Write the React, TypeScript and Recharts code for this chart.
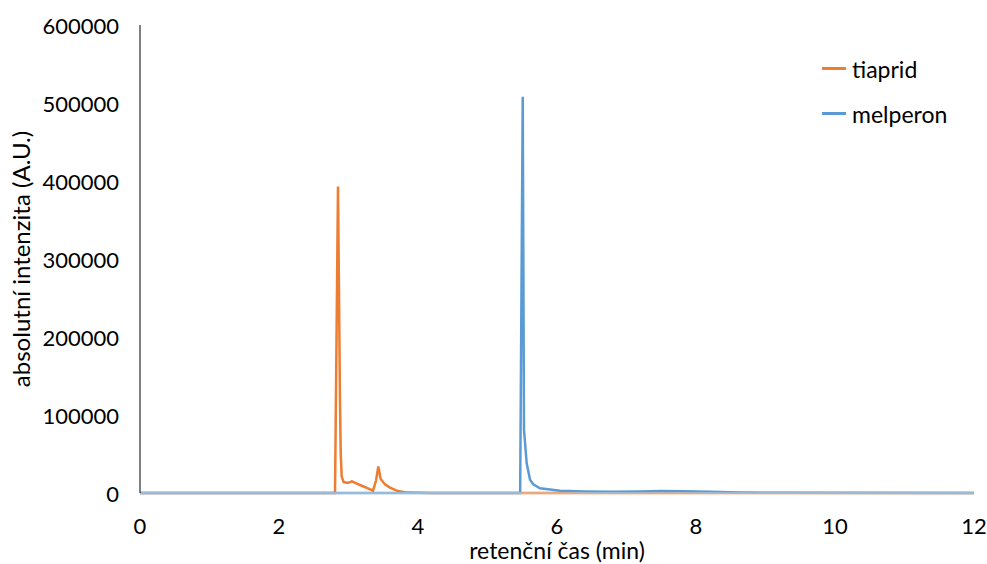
import React from "react";
import { LineChart, Line, XAxis, YAxis, Legend } from "recharts";

// Retention times (min) and absolute intensities for each chromatogram trace
const TIAPRID_TIME = [0, 2.806, 2.849, 2.878, 2.888, 2.902, 2.93, 2.99, 3.05, 3.12, 3.2, 3.28, 3.353, 3.396, 3.429, 3.463, 3.525, 3.597, 3.694, 3.837, 4.2, 12];
const TIAPRID_VALUES = [0, 0, 393000, 115000, 51000, 21000, 14000, 13000, 15000, 12000, 9000, 6000, 3000, 16000, 34000, 18000, 11000, 7000, 3000, 500, 0, 0];

const MELPERON_TIME = [0, 5.47, 5.507, 5.525, 5.564, 5.612, 5.659, 5.755, 5.899, 6.043, 6.4, 6.8, 7.2, 7.5, 7.8, 8.2, 8.6, 9.2, 12];
const MELPERON_VALUES = [0, 0, 508000, 81000, 38000, 17000, 11000, 6000, 4500, 3000, 2000, 1500, 2000, 2500, 2200, 1500, 800, 200, 0];

const X_TICKS = [0, 2, 4, 6, 8, 10, 12];
const Y_TICKS = [0, 100000, 200000, 300000, 400000, 500000, 600000];

const SERIES = [
  { name: "tiaprid", color: "#ED7D31" },
  { name: "melperon", color: "#5B9BD5" },
];

const tiapridData = TIAPRID_TIME.map((t, i) => ({ t, v: TIAPRID_VALUES[i] }));
const melperonData = MELPERON_TIME.map((t, i) => ({ t, v: MELPERON_VALUES[i] }));

const FONT = "Lato, 'Open Sans', sans-serif";
const TEXT = "#000000";

const XTick = (props: any) => {
  const { x, y, payload } = props;
  return (
    <text x={x} y={y + 30} textAnchor="middle" dominantBaseline="central" fontFamily={FONT} fontSize={22} fill={TEXT}>
      {payload.value}
    </text>
  );
};

const YTick = (props: any) => {
  const { x, y, payload } = props;
  return (
    <text x={x - 19} y={y} textAnchor="end" dominantBaseline="central" fontFamily={FONT} fontSize={22} fill={TEXT}>
      {payload.value}
    </text>
  );
};

const LegendContent = () => (
  <div style={{ fontFamily: FONT, fontSize: 23, color: TEXT }}>
    {SERIES.map((s) => (
      <div key={s.name} style={{ display: "flex", alignItems: "center", height: 45 }}>
        <div style={{ width: 24, height: 3, background: s.color, marginRight: 6 }} />
        <span>{s.name}</span>
      </div>
    ))}
  </div>
);

export default function App() {
  return (
    <div style={{ position: "absolute", left: 0, top: 0, width: 987, height: 564 }}>
      <LineChart width={987} height={564} margin={{ top: 25, right: 13, left: 0, bottom: 0 }}>
        <XAxis
          type="number"
          dataKey="t"
          domain={[0, 12]}
          ticks={X_TICKS}
          allowDuplicatedCategory={false}
          tickLine={false}
          tickSize={0}
          tick={<XTick />}
          height={71}
          stroke="#D9D9D9"
          strokeWidth={1}
          label={{
            content: (p: any) => {
              const vb = p.viewBox;
              return (
                <text x={vb.x + vb.width / 2} y={vb.y + 57} textAnchor="middle" dominantBaseline="central" fontFamily={FONT} fontSize={23} fill={TEXT}>
                  retenční čas (min)
                </text>
              );
            },
          }}
        />
        <YAxis
          type="number"
          domain={[0, 600000]}
          ticks={Y_TICKS}
          tickLine={false}
          tickSize={0}
          tick={<YTick />}
          width={140}
          stroke="#000000"
          strokeWidth={1}
          label={{
            content: (p: any) => {
              const vb = p.viewBox;
              const cx = vb.x + 20;
              const cy = vb.y + vb.height / 2;
              return (
                <text x={cx} y={cy} textAnchor="middle" dominantBaseline="central" transform={`rotate(-90 ${cx} ${cy})`} fontFamily={FONT} fontSize={24} fill={TEXT}>
                  absolutní intenzita (A.U.)
                </text>
              );
            },
          }}
        />
        <Legend
          layout="vertical"
          align="center"
          verticalAlign="middle"
          content={<LegendContent />}
          wrapperStyle={{ position: "absolute", left: 822, top: 46, width: 150 }}
        />
        <Line
          data={tiapridData}
          dataKey="v"
          name="tiaprid"
          type="linear"
          stroke={SERIES[0].color}
          strokeWidth={2.5}
          dot={false}
          activeDot={false}
          isAnimationActive={false}
        />
        <Line
          data={melperonData}
          dataKey="v"
          name="melperon"
          type="linear"
          stroke={SERIES[1].color}
          strokeWidth={2.5}
          dot={false}
          activeDot={false}
          isAnimationActive={false}
        />
      </LineChart>
    </div>
  );
}
